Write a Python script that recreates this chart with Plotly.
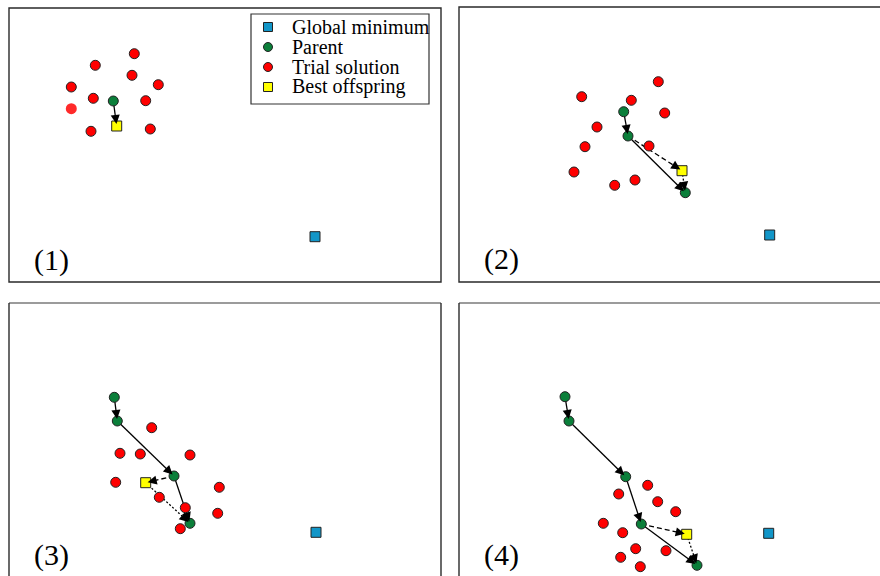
import numpy as np
import plotly.graph_objects as go

# ---------------- data (panel-local coordinates, 1 unit = 1 px, y downward) ----------------
# Panel (1)
p1_trial_x = [125.3, 86.3, 123.0, 149.3, 62.3, 84.3, 136.7, 82.0, 141.3]
p1_trial_y = [45.7, 57.3, 67.3, 76.7, 79.0, 90.3, 92.7, 123.3, 121.0]
p1_faint_x = [62.3]
p1_faint_y = [100.7]
p1_parent_x = [104.3]
p1_parent_y = [93.0]
p1_best_x = [107.7]
p1_best_y = [118.0]
p1_glob_x = [306.0]
p1_glob_y = [228.7]

# Panel (2)
p2_trial_x = [199.3, 122.7, 172.3, 205.7, 138.0, 126.0, 190.0, 115.0, 155.7, 176.0]
p2_trial_y = [74.7, 89.7, 93.3, 106.0, 120.0, 139.7, 139.0, 165.0, 178.3, 173.0]
p2_parent_x = [164.7, 169.0, 226.3]
p2_parent_y = [104.7, 129.0, 185.7]
p2_best_x = [223.0]
p2_best_y = [163.7]
p2_glob_x = [310.7]
p2_glob_y = [228.0]

# Panel (3)
p3_trial_x = [142.7, 111.0, 131.3, 181.0, 106.7, 210.3, 150.3, 176.3, 208.7, 171.3]
p3_trial_y = [124.7, 150.3, 151.0, 152.0, 179.3, 184.3, 194.3, 204.7, 210.3, 225.7]
p3_parent_x = [105.3, 108.3, 165.0, 181.0]
p3_parent_y = [94.3, 118.0, 173.0, 220.3]
p3_best_x = [136.7]
p3_best_y = [179.7]
p3_glob_x = [307.0]
p3_glob_y = [229.3]

# Panel (4)
p4_trial_x = [188.7, 159.7, 198.7, 216.7, 144.3, 163.7, 176.7, 207.0, 161.7, 181.3]
p4_trial_y = [182.3, 191.0, 198.7, 208.7, 220.3, 229.7, 245.7, 247.7, 254.3, 263.7]
p4_parent_x = [106.0, 110.0, 166.7, 182.3, 238.0]
p4_parent_y = [93.7, 118.0, 173.7, 221.0, 262.3]
p4_best_x = [227.7]
p4_best_y = [231.3]
p4_glob_x = [309.7]
p4_glob_y = [230.3]

# arrows: (from, to, style) ; "P<k>" = k-th parent, "B" = best offspring
p1_arrows = [("P0", "B", "solid")]
p2_arrows = [("P0", "P1", "solid"), ("P1", "B", "dash"), ("P1", "P2", "solid"), ("B", "P2", "dot")]
p3_arrows = [("P0", "P1", "solid"), ("P1", "P2", "solid"), ("P2", "B", "dash"),
             ("P2", "P3", "solid"), ("B", "P3", "dot")]
p4_arrows = [("P0", "P1", "solid"), ("P1", "P2", "solid"), ("P2", "P3", "solid"),
             ("P3", "B", "dash"), ("P3", "P4", "solid"), ("B", "P4", "dot")]

panel_labels = ["(1)", "(2)", "(3)", "(4)"]
legend_labels = ["Global minimum", "Parent", "Trial solution", "Best offspring"]

# ---------------- styling / layout ----------------
W, H = 880, 576
FONT = "Liberation Serif, Times New Roman, serif"
RED = "#FF0000"
GREEN = "#0B7F3A"
YELLOW = "#FFFF00"
CYAN = "#1296C8"
EDGE = "#222222"

# panel frames in px: left, top, right, bottom
FRAMES = [(9, 8, 441, 282), (459, 7, 880, 282), (9, 303, 441, 576), (459, 303, 880, 576)]

panels = [
    dict(trial=(p1_trial_x, p1_trial_y), parent=(p1_parent_x, p1_parent_y), best=(p1_best_x, p1_best_y),
         glob=(p1_glob_x, p1_glob_y), arrows=p1_arrows, faint=(p1_faint_x, p1_faint_y)),
    dict(trial=(p2_trial_x, p2_trial_y), parent=(p2_parent_x, p2_parent_y), best=(p2_best_x, p2_best_y),
         glob=(p2_glob_x, p2_glob_y), arrows=p2_arrows),
    dict(trial=(p3_trial_x, p3_trial_y), parent=(p3_parent_x, p3_parent_y), best=(p3_best_x, p3_best_y),
         glob=(p3_glob_x, p3_glob_y), arrows=p3_arrows),
    dict(trial=(p4_trial_x, p4_trial_y), parent=(p4_parent_x, p4_parent_y), best=(p4_best_x, p4_best_y),
         glob=(p4_glob_x, p4_glob_y), arrows=p4_arrows),
]

fig = go.Figure()
layout = dict(width=W, height=H, margin=dict(l=0, r=0, t=0, b=0), paper_bgcolor="white",
              plot_bgcolor="rgba(0,0,0,0)", showlegend=False)
annotations = []
shapes = []


def px(xp):
    return xp / W


def py(yp):
    return 1 - yp / H


dash_map = {"solid": "solid", "dash": "5px,3px", "dot": "2px,2px"}

for i, (pan, fr) in enumerate(zip(panels, FRAMES), start=1):
    l, t, r, b = fr
    xa = "x" if i == 1 else f"x{i}"
    ya = "y" if i == 1 else f"y{i}"
    layout["xaxis" if i == 1 else f"xaxis{i}"] = dict(
        domain=[px(l), px(r)], range=[0, r - l], visible=False, fixedrange=True, anchor=ya)
    layout["yaxis" if i == 1 else f"yaxis{i}"] = dict(
        domain=[py(b), py(t)], range=[b - t, 0], visible=False, fixedrange=True, anchor=xa)

    def pt(name):
        if name == "B":
            return pan["best"][0][0], pan["best"][1][0]
        k = int(name[1:])
        return pan["parent"][0][k], pan["parent"][1][k]

    # arrow shafts
    for a, c, style in pan["arrows"]:
        x0, y0 = pt(a)
        x1, y1 = pt(c)
        fig.add_trace(go.Scatter(x=[x0, x1], y=[y0, y1], mode="lines", xaxis=xa, yaxis=ya,
                                 line=dict(color="black", width=1.3, dash=dash_map[style]),
                                 hoverinfo="skip"))

    # markers
    fig.add_trace(go.Scatter(x=pan["glob"][0], y=pan["glob"][1], mode="markers", xaxis=xa, yaxis=ya,
                             marker=dict(symbol="square", size=10, color=CYAN, line=dict(color=EDGE, width=1)),
                             name=legend_labels[0]))
    fig.add_trace(go.Scatter(x=pan["trial"][0], y=pan["trial"][1], mode="markers", xaxis=xa, yaxis=ya,
                             marker=dict(symbol="circle", size=10, color=RED, line=dict(color=EDGE, width=1)),
                             name=legend_labels[2]))
    if "faint" in pan:
        fig.add_trace(go.Scatter(x=pan["faint"][0], y=pan["faint"][1], mode="markers", xaxis=xa, yaxis=ya,
                                 marker=dict(symbol="circle", size=11, color="#FF2A2A", line=dict(width=0)),
                                 name=legend_labels[2]))
    fig.add_trace(go.Scatter(x=pan["parent"][0], y=pan["parent"][1], mode="markers", xaxis=xa, yaxis=ya,
                             marker=dict(symbol="circle", size=10, color=GREEN, line=dict(color=EDGE, width=1)),
                             name=legend_labels[1]))
    fig.add_trace(go.Scatter(x=pan["best"][0], y=pan["best"][1], mode="markers", xaxis=xa, yaxis=ya,
                             marker=dict(symbol="square", size=10, color=YELLOW, line=dict(color=EDGE, width=1)),
                             name=legend_labels[3]))

    # arrow heads
    for a, c, style in pan["arrows"]:
        x0, y0 = pt(a)
        x1, y1 = pt(c)
        d = np.hypot(x1 - x0, y1 - y0)
        ux, uy = (x1 - x0) / d, (y1 - y0) / d
        annotations.append(dict(x=x1, y=y1, ax=x1 - ux * 9, ay=y1 - uy * 9, xref=xa, yref=ya,
                                axref=xa, ayref=ya, text="", showarrow=True, arrowhead=2,
                                arrowsize=1.4, arrowwidth=1.3, arrowcolor="black", standoff=2))

    # panel label
    annotations.append(dict(x=23, y=252, xref=xa, yref=ya, text=panel_labels[i - 1], showarrow=False,
                            xanchor="left", yanchor="middle", font=dict(family=FONT, size=30, color="black")))

    # frame
    if i == 1:
        path = f"M{px(l)},{py(b)} L{px(l)},{py(t)} L{px(r)},{py(t)} L{px(r)},{py(b)} Z"
        shapes.append(dict(type="path", path=path, xref="paper", yref="paper",
                           line=dict(color="#2a2a2a", width=1.4)))
    elif i == 2:
        path = f"M{px(r)},{py(t)} L{px(l)},{py(t)} L{px(l)},{py(b)} L{px(r)},{py(b)}"
        shapes.append(dict(type="path", path=path, xref="paper", yref="paper",
                           line=dict(color="#2a2a2a", width=1.4)))
    else:
        shapes.append(dict(type="line", x0=px(l), x1=px(r), y0=py(t), y1=py(t), xref="paper", yref="paper",
                           line=dict(color="#7a7a7a", width=1.6)))
        rr = px(r) if i == 3 else None
        shapes.append(dict(type="line", x0=px(l), x1=px(l), y0=py(t), y1=0, xref="paper", yref="paper",
                           line=dict(color="#2a2a2a", width=1.4)))
        if i == 3:
            shapes.append(dict(type="line", x0=px(r), x1=px(r), y0=py(t), y1=0, xref="paper", yref="paper",
                               line=dict(color="#2a2a2a", width=1.4)))

# ---------------- hand-made legend (overlay axis in px) ----------------
LEG_L, LEG_T, LEG_R, LEG_B = 251, 14, 429, 104
LEG_ROW0, LEG_DY = 27, 20
LEG_MX, LEG_TX = 268, 290
layout["xaxis5"] = dict(domain=[0, 1], range=[0, W], visible=False, fixedrange=True, anchor="y5")
layout["yaxis5"] = dict(domain=[0, 1], range=[H, 0], visible=False, fixedrange=True, anchor="x5")
shapes.append(dict(type="rect", xref="paper", yref="paper", x0=px(LEG_L), x1=px(LEG_R),
                   y0=py(LEG_B), y1=py(LEG_T), line=dict(color="#333333", width=1.2)))
leg_syms = ["square", "circle", "circle", "square"]
leg_cols = [CYAN, GREEN, RED, YELLOW]
for k, (lab, sym, col) in enumerate(zip(legend_labels, leg_syms, leg_cols)):
    yy = LEG_ROW0 + k * LEG_DY
    fig.add_trace(go.Scatter(x=[LEG_MX], y=[yy], mode="markers", xaxis="x5", yaxis="y5",
                             marker=dict(symbol=sym, size=9, color=col, line=dict(color=EDGE, width=1)),
                             hoverinfo="skip"))
    annotations.append(dict(x=px(LEG_TX), y=py(yy), xref="paper", yref="paper", text=lab, showarrow=False,
                            xanchor="left", yanchor="middle", font=dict(family=FONT, size=20, color="black")))

layout["annotations"] = annotations
layout["shapes"] = shapes
fig.update_layout(**layout)
fig.write_html("out.html")
